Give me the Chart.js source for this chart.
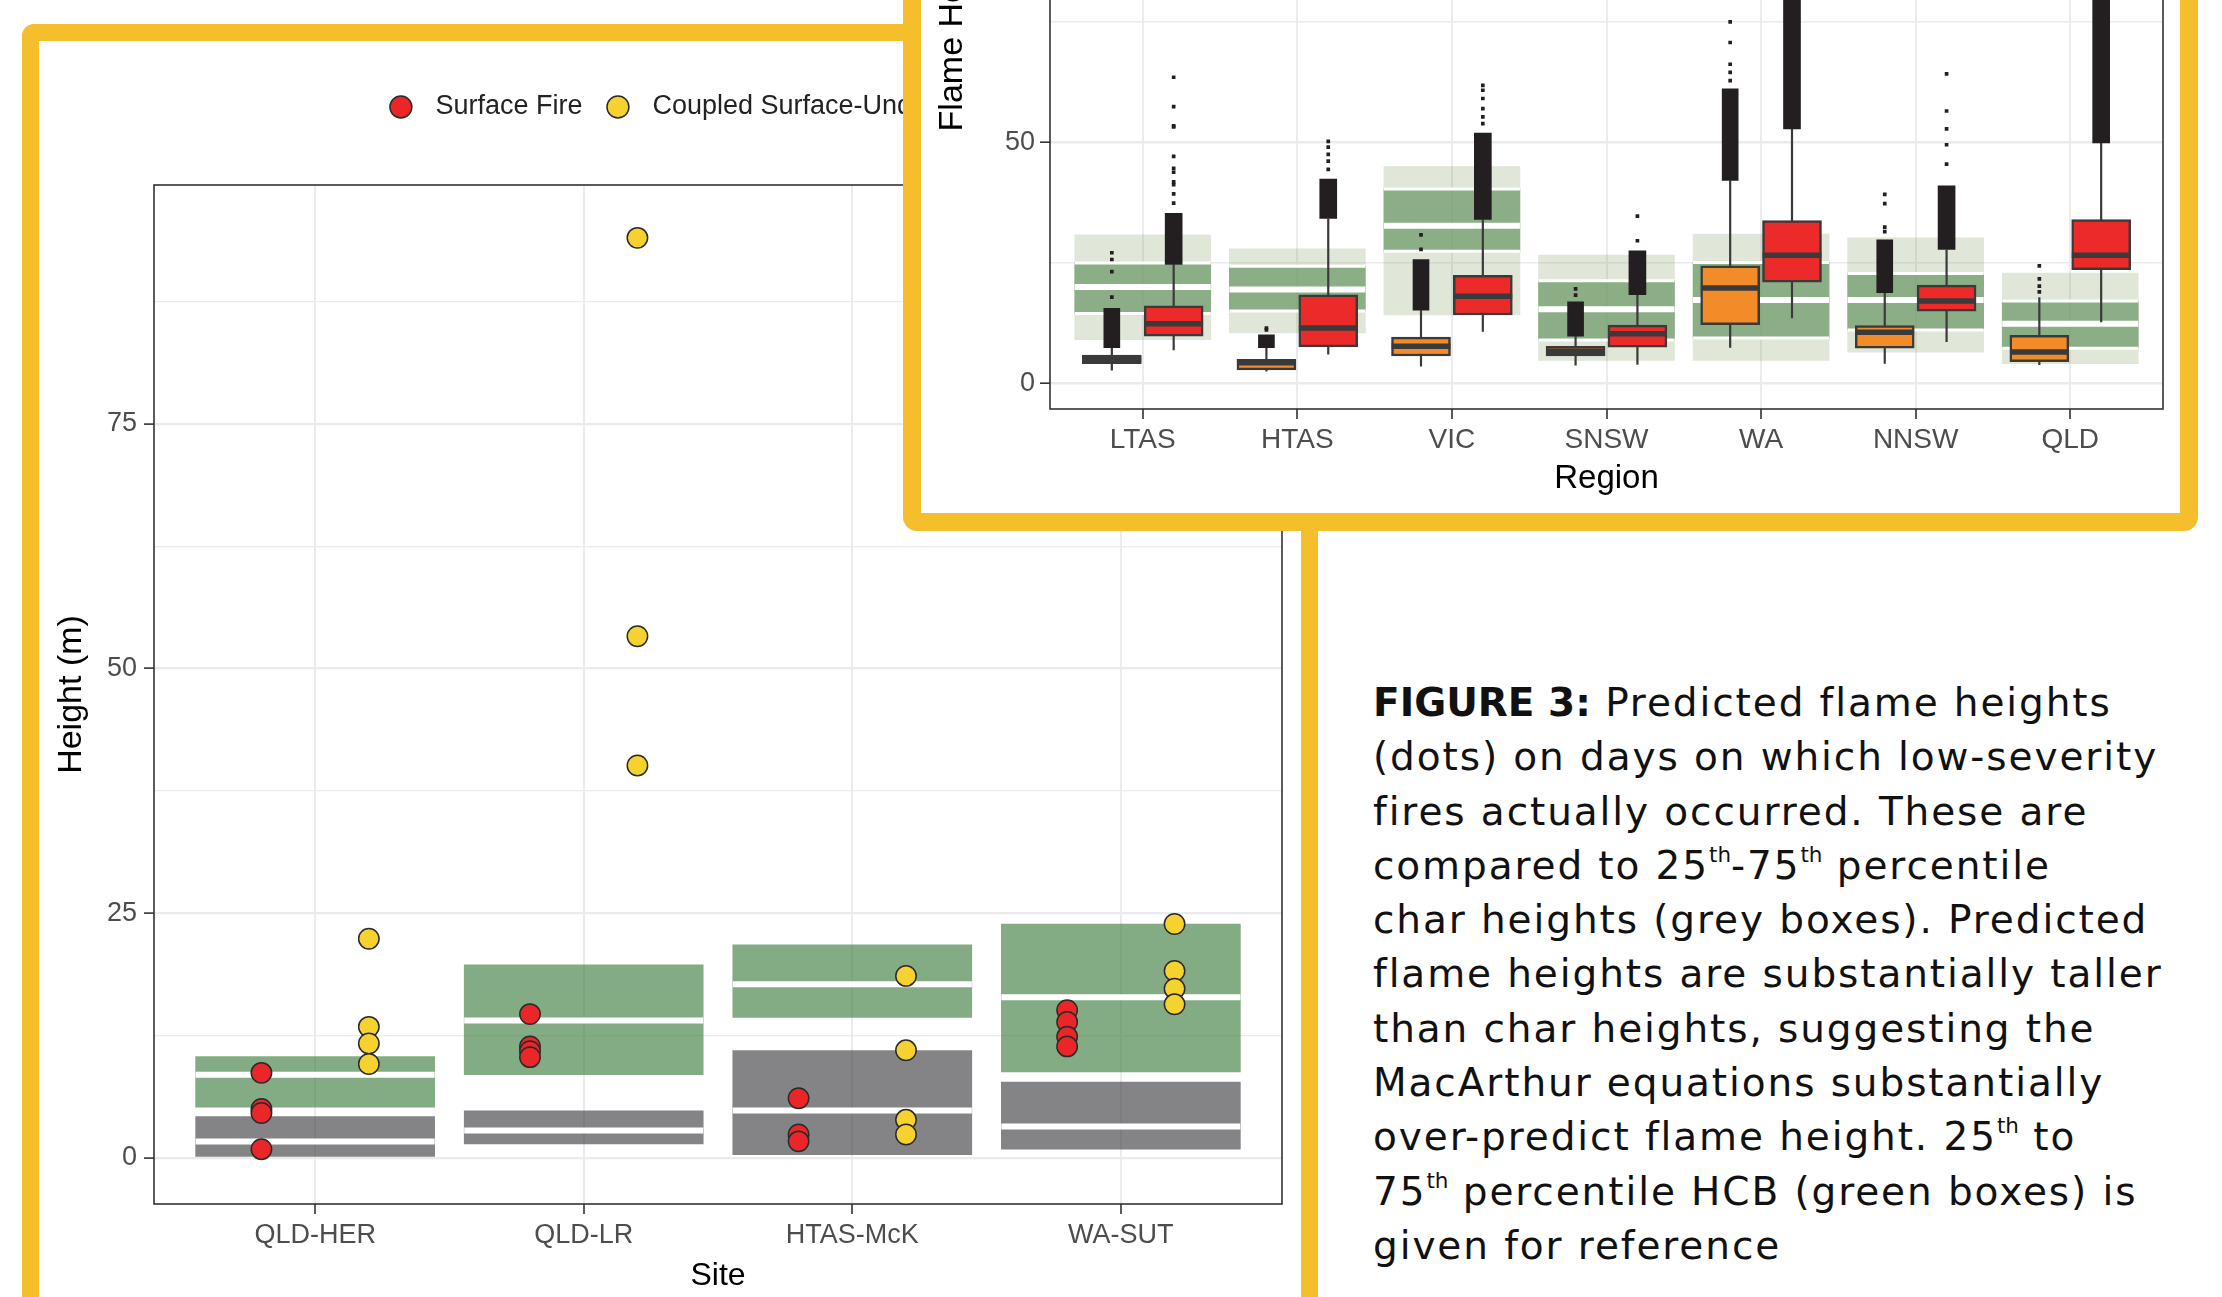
<!DOCTYPE html>
<html>
<head>
<meta charset="utf-8">
<script src="https://cdn.jsdelivr.net/npm/chart.js@4.4.1/dist/chart.umd.min.js"></script>
<style>
  html, body { margin: 0; padding: 0; background: #fff; }
  body { width: 2222px; height: 1297px; position: relative; overflow: hidden; font-family: "Liberation Sans", Arial, sans-serif; }
  #leftPanel { position: absolute; left: 22px; top: 24px; width: 1296px; height: 1340px; box-sizing: border-box;
    border: 17px solid #F4BE2C; border-radius: 12px; background: #fff; }
  #mainWrap { position: absolute; left: 40px; top: 42px; width: 1260px; height: 1255px; }
  #insetPanel { position: absolute; left: 903px; top: -30px; width: 1295px; height: 561px; box-sizing: border-box;
    border: 18px solid #F4BE2C; border-radius: 14px; background: #fff; z-index: 2; }
  #insetWrap { position: absolute; left: 921px; top: -430px; width: 1259px; height: 933px; z-index: 3; }
  #caption { position: absolute; left: 1373px; top: 676px; font-family: "DejaVu Sans", sans-serif; font-size: 39px;
    line-height: 54.3px; letter-spacing: 1.9px; color: #111; white-space: nowrap; }
  #caption b { letter-spacing: 0; }
  #caption sup { font-size: 0.55em; line-height: 0; vertical-align: 0.8em; letter-spacing: 0; }
</style>
</head>
<body>
<div id="leftPanel"></div>
<div id="mainWrap"><canvas id="mainChart"></canvas></div>
<div id="insetPanel"></div>
<div id="insetWrap"><canvas id="insetChart"></canvas></div>
<div id="caption"><b>FIGURE 3:</b> Predicted flame heights<br>(dots) on days on which low-severity<br>fires actually occurred. These are<br>compared to 25<sup>th</sup>-75<sup>th</sup> percentile<br>char heights (grey boxes). Predicted<br>flame heights are substantially taller<br>than char heights, suggesting the<br>MacArthur equations substantially<br>over-predict flame height. 25<sup>th</sup> to<br>75<sup>th</sup> percentile HCB (green boxes) is<br>given for reference</div>
<script>
Chart.defaults.font.family = '"Liberation Sans", Arial, sans-serif';
Chart.defaults.animation = false;

// ---- main chart data (Height, m) ----
const sites = ['QLD-HER', 'QLD-LR', 'HTAS-McK', 'WA-SUT'];
const surfaceFire = [[8.7, 5.0, 4.6, 0.9], [14.7, 11.4, 10.9, 10.3], [6.1, 2.4, 1.7], [15.1, 13.9, 12.4, 11.4]];
const coupledFire = [[22.4, 13.4, 11.7, 9.6], [94.0, 53.3, 40.1], [18.6, 11.0, 3.9, 2.4], [23.9, 19.1, 17.3, 15.7]];
const hcbLow = [5.2, 8.5, 14.35, 8.8];
const hcbMid = [8.5, 14.05, 17.76, 16.43];
const hcbHigh = [10.37, 19.73, 21.78, 23.89];
const charLow = [0.15, 1.45, 0.33, 0.91];
const charMid = [1.69, 2.81, 4.85, 3.22];
const charHigh = [4.24, 4.82, 10.98, 7.75];

// ---- inset data (Flame height by region) ----
const regions = ['LTAS', 'HTAS', 'VIC', 'SNSW', 'WA', 'NNSW', 'QLD'];
const hcbOuterLo = [9.1, 10.5, 14.2, 4.8, 4.8, 6.5, 4.1];
const hcbOuterHi = [30.8, 27.9, 45.0, 26.6, 31.0, 30.2, 22.9];
const hcbInnerLo = [14.5, 15.0, 27.4, 9.0, 9.4, 11.1, 7.3];
const hcbInnerHi = [25.0, 24.3, 40.3, 21.3, 25.1, 22.8, 17.1];
const hcbInnerMid = [20.0, 19.5, 32.7, 15.4, 17.3, 17.3, 12.4];

const leftWhiskLo = [2.7, 2.5, 3.5, 3.7, 7.4, 4.1, 3.8];
const leftQ1 = [4.1, 2.8, 5.7, 5.7, 12.2, 7.3, 4.5];
const leftMed = [5.0, 4.3, 7.7, 6.7, 19.8, 10.6, 6.5];
const leftQ3 = [5.9, 5.0, 9.6, 7.7, 24.4, 12.0, 10.0];
const leftWhiskHi = [7.4, 7.4, 15.2, 9.8, 42.1, 18.8, 17.9];
const leftDenseHi = [15.6, 10.1, 25.7, 16.9, 61.1, 29.8, null];
const leftSparse = [[17.9, 23.2, 25.7, 27.1], [11.1, 11.5], [27.8, 30.8], [18.3, 19.6],
  [62.8, 64.5, 66.2, 70.7, 75.0], [31.5, 32.4, 37.3, 39.2], [19.0, 20.2, 21.7, 24.4]];

const rightWhiskLo = [6.9, 6.0, 10.7, 3.9, 13.5, 8.6, 12.7];
const rightQ1 = [9.8, 7.6, 14.2, 7.5, 21.0, 15.0, 23.6];
const rightMed = [12.4, 11.5, 18.1, 10.3, 26.6, 17.1, 26.6];
const rightQ3 = [16.1, 18.4, 22.4, 12.1, 33.8, 20.4, 34.0];
const rightWhiskHi = [24.7, 34.2, 34.0, 18.4, 52.8, 27.8, 49.9];
const rightDenseHi = [35.3, 42.4, 51.9, 27.5, 140, 41.0, 125];
const rightSparse = [[37.4, 39.3, 41.2, 41.8, 43.8, 44.6, 47.1, 53.2, 53.4, 57.4, 63.5], [44.4, 46.1, 47.5, 49.0, 50.2],
  [53.9, 55.3, 57.0, 59.1, 60.8, 61.8], [29.6, 34.7], [], [45.5, 49.5, 52.8, 56.5, 64.2], []];

const RED = '#EB2629', YELLOW = '#F5D22F', ORANGE = '#F28C28', BOXRED = '#EC2A2A';
const INK = '#3A3A3A', DOTS = '#231F20', EDGE = '#2A2A2A';

function hSegs(values, offset, half) {
  const pts = [];
  values.forEach((v, i) => {
    if (v == null) return;
    const c = i + 1 + offset;
    pts.push({x: c - half, y: v}, {x: c + half, y: v}, {x: c + half, y: null});
  });
  return pts;
}
function vSegs(lo, hi, offset) {
  const pts = [];
  lo.forEach((v, i) => {
    const c = i + 1 + offset;
    pts.push({x: c, y: v}, {x: c, y: hi[i]}, {x: c, y: null});
  });
  return pts;
}
function floatBars(lo, hi, offset) {
  const out = [];
  lo.forEach((v, i) => { if (v != null && hi[i] != null) out.push({x: i + 1 + offset, y: [v, hi[i]]}); });
  return out;
}
function pointsAt(groups, offset) {
  const out = [];
  groups.forEach((g, i) => g.forEach(v => out.push({x: i + 1 + offset, y: v})));
  return out;
}

const panelBorder = {
  id: 'panelBorder',
  afterDatasetsDraw(chart) {
    const {ctx, chartArea: a} = chart;
    ctx.save();
    ctx.strokeStyle = '#333';
    ctx.lineWidth = 1.6;
    ctx.strokeRect(a.left, a.top, a.right - a.left, a.bottom - a.top);
    ctx.restore();
  }
};

function line(data, color, width, order) {
  return {type: 'line', data, borderColor: color, borderWidth: width, pointRadius: 0,
    spanGaps: false, fill: false, order, borderCapStyle: 'butt'};
}
function bars(data, color, thickness, order, extra) {
  return Object.assign({type: 'bar', data, backgroundColor: color, barThickness: thickness,
    grouped: false, borderWidth: 0, order}, extra || {});
}

// ---------------- main chart ----------------
new Chart(document.getElementById('mainChart'), {
  type: 'scatter',
  data: {
    datasets: [
      {label: 'Surface Fire', data: pointsAt(surfaceFire, -0.2), backgroundColor: RED, borderColor: EDGE,
        borderWidth: 1.5, pointRadius: 10.2, pointStyle: 'circle', order: 0, showInLegend: true},
      {label: 'Coupled Surface-Understory Fire', data: pointsAt(coupledFire, 0.2), backgroundColor: YELLOW, borderColor: EDGE,
        borderWidth: 1.5, pointRadius: 10.2, pointStyle: 'circle', order: 0, showInLegend: true},
      line(hSegs(hcbMid, 0, 0.445), '#fff', 6, 2),
      line(hSegs(charMid, 0, 0.445), '#fff', 6, 2),
      bars(floatBars(hcbLow, hcbHigh, 0), 'rgba(66,128,66,0.65)', 239, 3),
      bars(floatBars(charLow, charHigh, 0), 'rgba(62,63,68,0.64)', 239, 3)
    ]
  },
  options: {
    responsive: true,
    maintainAspectRatio: false,
    events: [],
    layout: {padding: {top: 29.5, right: 18, left: 0, bottom: 0}},
    plugins: {
      tooltip: {enabled: false},
      legend: {
        position: 'top', fullSize: false, align: 'center',
        labels: {
          usePointStyle: true, pointStyle: 'circle', boxWidth: 27, boxHeight: 15.5, padding: 22,
          font: {size: 27}, color: '#222',
          generateLabels: chart => Chart.defaults.plugins.legend.labels.generateLabels(chart)
            .map(l => Object.assign(l, {text: ' ' + l.text})),
          filter: (item, data) => data.datasets[item.datasetIndex].showInLegend === true
        }
      }
    },
    scales: {
      x: {
        type: 'linear', min: 0.4, max: 4.6, offset: false,
        afterBuildTicks: s => { s.ticks = sites.map((_, i) => ({value: i + 1})); },
        ticks: {callback: v => sites[v - 1], font: {size: 27}, color: '#4D4D4D', padding: 5, maxRotation: 0, autoSkip: false},
        grid: {offset: false, color: '#EBEBEB', lineWidth: 2, tickLength: 10, tickColor: '#333', tickWidth: 1.6},
        border: {display: false},
        title: {display: true, text: 'Site', font: {size: 32}, color: '#000', padding: {top: 0, bottom: 2}},
        afterFit: s => { s.height = 93; }
      },
      xTop: {
        type: 'linear', position: 'top', min: 0, max: 1,
        grid: {display: false, drawTicks: false}, ticks: {display: false}, border: {display: false},
        afterFit: s => { s.height = 54.5; }
      },
      y: {
        min: -4.7, max: 99.4,
        afterBuildTicks: s => { const t = []; for (let v = 0; v <= 99; v += 12.5) t.push({value: v}); s.ticks = t; },
        ticks: {callback: v => (v % 25 === 0 ? v : ''), font: {size: 27}, color: '#4D4D4D', padding: 7},
        grid: {
          color: '#EBEBEB',
          lineWidth: c => (c.tick && c.tick.value % 25 === 0 ? 2.2 : 1.2),
          tickLength: 10, tickWidth: 1.6,
          tickColor: c => (c.tick && c.tick.value % 25 === 0 ? '#333' : 'rgba(0,0,0,0)')
        },
        border: {display: false},
        title: {display: true, text: 'Height (m)', font: {size: 34}, color: '#000', padding: {top: 11, bottom: 0}},
        afterFit: s => { s.width = 114; }
      }
    }
  },
  plugins: [panelBorder]
});

// ---------------- inset chart ----------------
new Chart(document.getElementById('insetChart'), {
  type: 'scatter',
  data: {
    datasets: [
      {label: 'left outliers', data: pointsAt(leftSparse, -0.2), backgroundColor: DOTS, borderColor: DOTS,
        borderWidth: 0, pointRadius: 2.6, pointStyle: 'rect', order: 1},
      {label: 'right outliers', data: pointsAt(rightSparse, 0.2), backgroundColor: DOTS, borderColor: DOTS,
        borderWidth: 0, pointRadius: 2.6, pointStyle: 'rect', order: 1},
      line(hSegs(leftMed, -0.2, 0.19), INK, 5.5, 2),
      line(hSegs(rightMed, 0.2, 0.19), INK, 5.5, 2),
      bars(floatBars(leftQ1, leftQ3, -0.2), ORANGE, 59, 3, {borderColor: INK, borderWidth: 2.5, borderSkipped: false}),
      bars(floatBars(rightQ1, rightQ3, 0.2), BOXRED, 59, 3, {borderColor: INK, borderWidth: 2.5, borderSkipped: false}),
      bars(floatBars(leftWhiskHi, leftDenseHi, -0.2), DOTS, 16, 4),
      bars(floatBars(rightWhiskHi, rightDenseHi, 0.2), DOTS, 17, 4),
      line(vSegs(leftWhiskLo, leftWhiskHi, -0.2), INK, 2.2, 5),
      line(vSegs(rightWhiskLo, rightWhiskHi, 0.2), INK, 2.2, 5),
      line(hSegs(hcbInnerMid, 0, 0.44), '#fff', 6, 6),
      line(hSegs(hcbInnerLo, 0, 0.44), '#fff', 3, 6),
      line(hSegs(hcbInnerHi, 0, 0.44), '#fff', 3, 6),
      bars(floatBars(hcbInnerLo, hcbInnerHi, 0), 'rgba(105,150,100,0.7)', 136, 7),
      bars(floatBars(hcbOuterLo, hcbOuterHi, 0), 'rgba(132,160,100,0.25)', 136, 8)
    ]
  },
  options: {
    responsive: true,
    maintainAspectRatio: false,
    events: [],
    layout: {padding: {top: 7, right: 17, left: 0, bottom: 0}},
    plugins: {legend: {display: false}, tooltip: {enabled: false}},
    scales: {
      x: {
        type: 'linear', min: 0.4, max: 7.6, offset: false,
        afterBuildTicks: s => { s.ticks = regions.map((_, i) => ({value: i + 1})); },
        ticks: {callback: v => regions[v - 1], font: {size: 28}, color: '#4D4D4D', padding: 4, maxRotation: 0, autoSkip: false},
        grid: {offset: false, color: '#EBEBEB', lineWidth: 2, tickLength: 10, tickColor: '#333', tickWidth: 1.6},
        border: {display: false},
        title: {display: true, text: 'Region', font: {size: 33}, color: '#000', padding: {top: 0, bottom: 4}},
        afterFit: s => { s.height = 94; }
      },
      y: {
        min: -5.3, max: 164.3,
        afterBuildTicks: s => { const t = []; for (let v = 0; v <= 164; v += 25) t.push({value: v}); s.ticks = t; },
        ticks: {callback: v => (v % 50 === 0 ? v : ''), font: {size: 27}, color: '#4D4D4D', padding: 5},
        grid: {
          color: '#EBEBEB',
          lineWidth: c => (c.tick && c.tick.value % 50 === 0 ? 2.4 : 1.4),
          tickLength: 10, tickWidth: 1.6,
          tickColor: c => (c.tick && c.tick.value % 50 === 0 ? '#333' : 'rgba(0,0,0,0)')
        },
        border: {display: false},
        title: {display: true, text: 'Flame Height (m)', font: {size: 34}, color: '#000', padding: {top: 11, bottom: 0}},
        afterFit: s => { s.width = 129; }
      }
    }
  },
  plugins: [panelBorder]
});
</script>
</body>
</html>
